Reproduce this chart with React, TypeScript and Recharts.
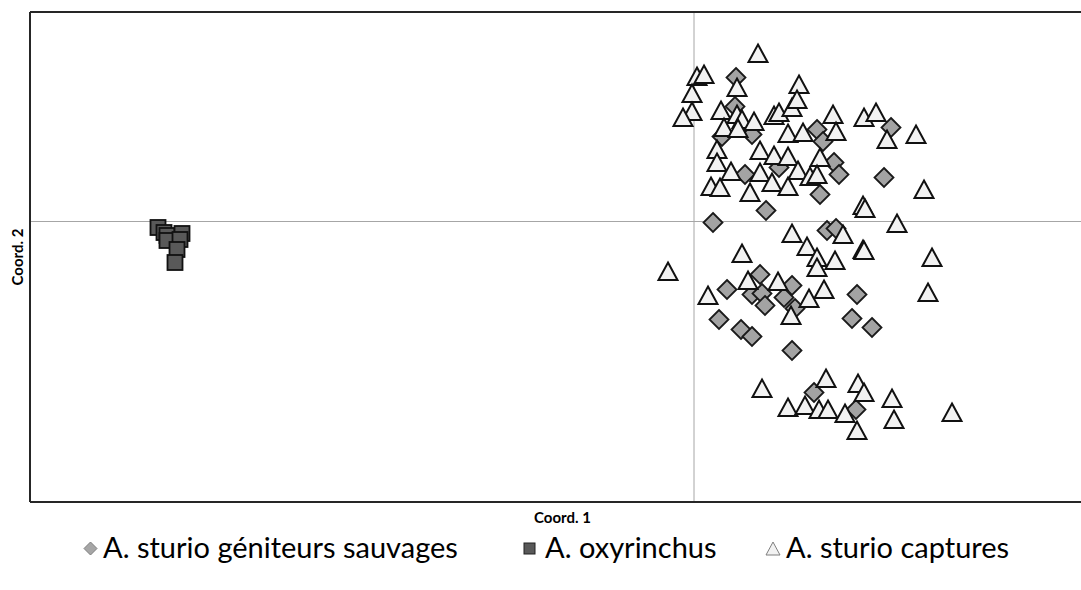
import React from 'react';
import {
  ScatterChart,
  Scatter,
  XAxis,
  YAxis,
  ReferenceLine,
  Label,
} from 'recharts';

// PCoA coordinates (Coord. 1, Coord. 2)
const sturioSauvages = [
  { x: 0.42, y: 1.44 }, { x: 0.41, y: 1.15 }, { x: 0.58, y: 0.87 }, { x: 0.28, y: 0.85 },
  { x: 0.85, y: 0.54 }, { x: 0.51, y: 0.47 }, { x: 1.23, y: 0.92 }, { x: 1.29, y: 0.8 },
  { x: 1.97, y: 0.94 }, { x: 1.4, y: 0.59 }, { x: 1.45, y: 0.47 }, { x: 1.9, y: 0.44 },
  { x: 1.26, y: 0.27 }, { x: 0.19, y: -0.01 }, { x: 0.72, y: 0.11 }, { x: 1.33, y: -0.09 },
  { x: 1.42, y: -0.07 }, { x: 0.33, y: -0.68 }, { x: 0.66, y: -0.53 }, { x: 0.98, y: -0.64 },
  { x: 0.58, y: -0.73 }, { x: 0.68, y: -0.72 }, { x: 0.71, y: -0.84 }, { x: 0.9, y: -0.76 },
  { x: 1.01, y: -0.87 }, { x: 0.25, y: -0.98 }, { x: 0.47, y: -1.08 }, { x: 0.58, y: -1.15 },
  { x: 0.98, y: -1.29 }, { x: 1.63, y: -0.73 }, { x: 1.58, y: -0.97 }, { x: 1.78, y: -1.06 },
  { x: 1.2, y: -1.71 }, { x: 1.62, y: -1.88 },
];

const oxyrinchus = [
  { x: -5.36, y: -0.06 }, { x: -5.3, y: -0.11 }, { x: -5.27, y: -0.14 }, { x: -5.12, y: -0.12 },
  { x: -5.27, y: -0.19 }, { x: -5.14, y: -0.18 }, { x: -5.17, y: -0.28 }, { x: -5.19, y: -0.41 },
];

const sturioCaptures = [
  { x: 0.64, y: 1.68 }, { x: 0.03, y: 1.45 }, { x: 0.1, y: 1.47 }, { x: -0.02, y: 1.28 },
  { x: -0.02, y: 1.1 }, { x: -0.11, y: 1.04 }, { x: 0.43, y: 1.34 }, { x: 1.05, y: 1.37 },
  { x: 0.27, y: 1.11 }, { x: 0.43, y: 1.07 }, { x: 0.48, y: 1.02 }, { x: 0.6, y: 1.0 },
  { x: 0.3, y: 0.94 }, { x: 0.44, y: 0.93 }, { x: 0.23, y: 0.72 }, { x: 0.23, y: 0.59 },
  { x: 0.66, y: 0.71 }, { x: 0.8, y: 1.06 }, { x: 0.85, y: 1.09 }, { x: 0.98, y: 1.14 },
  { x: 1.03, y: 1.22 }, { x: 0.94, y: 0.88 }, { x: 1.09, y: 0.89 }, { x: 0.8, y: 0.66 },
  { x: 0.94, y: 0.65 }, { x: 0.37, y: 0.5 }, { x: 0.66, y: 0.49 }, { x: 0.17, y: 0.35 },
  { x: 0.26, y: 0.34 }, { x: 0.56, y: 0.29 }, { x: 0.78, y: 0.39 }, { x: 0.94, y: 0.35 },
  { x: 1.04, y: 0.51 }, { x: 1.16, y: 0.45 }, { x: 1.39, y: 1.07 }, { x: 1.7, y: 1.04 },
  { x: 1.82, y: 1.09 }, { x: 1.93, y: 0.82 }, { x: 2.22, y: 0.87 }, { x: 1.42, y: 0.9 },
  { x: 1.26, y: 0.64 }, { x: 1.23, y: 0.47 }, { x: 2.3, y: 0.32 }, { x: 1.69, y: 0.16 },
  { x: 1.71, y: 0.13 }, { x: -0.26, y: -0.5 }, { x: 0.48, y: -0.32 }, { x: 0.98, y: -0.12 },
  { x: 1.13, y: -0.25 }, { x: 0.14, y: -0.74 }, { x: 0.54, y: -0.59 }, { x: 0.84, y: -0.6 },
  { x: 0.97, y: -0.94 }, { x: 1.15, y: -0.77 }, { x: 2.03, y: -0.02 }, { x: 1.49, y: -0.13 },
  { x: 1.23, y: -0.36 }, { x: 1.69, y: -0.28 }, { x: 1.7, y: -0.29 }, { x: 1.41, y: -0.39 },
  { x: 1.23, y: -0.46 }, { x: 2.38, y: -0.36 }, { x: 1.3, y: -0.68 }, { x: 2.34, y: -0.71 },
  { x: 0.68, y: -1.67 }, { x: 1.32, y: -1.57 }, { x: 1.64, y: -1.62 }, { x: 1.7, y: -1.71 },
  { x: 1.98, y: -1.77 }, { x: 0.94, y: -1.86 }, { x: 1.11, y: -1.84 }, { x: 1.25, y: -1.88 },
  { x: 1.34, y: -1.88 }, { x: 1.51, y: -1.92 }, { x: 2.0, y: -1.98 }, { x: 1.63, y: -2.09 },
  { x: 2.58, y: -1.91 },
];

const legendLabels = ['A. sturio géniteurs sauvages', 'A. oxyrinchus', 'A. sturio captures'];

const X_DOMAIN = [-6.64, 3.87];
const Y_DOMAIN = [-2.805, 2.095];
const FONT = 'Lato, "Open Sans", sans-serif';

const Diamond = (props: any) => {
  const { cx, cy } = props;
  const r = 9.5;
  return (
    <polygon
      points={`${cx},${cy - r} ${cx + r},${cy} ${cx},${cy + r} ${cx - r},${cy}`}
      fill="#a3a3a3"
      stroke="#1a1a1a"
      strokeWidth={1.8}
    />
  );
};

const Square = (props: any) => {
  const { cx, cy } = props;
  const s = 15;
  return (
    <rect x={cx - s / 2} y={cy - s / 2} width={s} height={s} fill="#595959" stroke="#111" strokeWidth={1.8} />
  );
};

const Triangle = (props: any) => {
  const { cx, cy } = props;
  return (
    <polygon
      points={`${cx},${cy - 9} ${cx + 9.5},${cy + 8.5} ${cx - 9.5},${cy + 8.5}`}
      fill="#f2f2f2"
      stroke="#111"
      strokeWidth={2}
      strokeLinejoin="miter"
    />
  );
};

const XTitle = (props: any) => {
  const { viewBox } = props;
  return (
    <text
      x={viewBox.x + viewBox.width / 2 + 7}
      y={viewBox.y + 21}
      textAnchor="middle"
      fontFamily={FONT}
      fontWeight="bold"
      fontSize={15}
      fill="#000"
    >
      Coord. 1
    </text>
  );
};

const YTitle = (props: any) => {
  const { viewBox } = props;
  const x = 23;
  const y = viewBox.y + viewBox.height / 2;
  return (
    <text
      x={x}
      y={y}
      transform={`rotate(-90 ${x} ${y})`}
      textAnchor="middle"
      fontFamily={FONT}
      fontWeight="bold"
      fontSize={15}
      fill="#000"
    >
      Coord. 2
    </text>
  );
};

const LegendBar = () => (
  <div
    style={{
      position: 'absolute',
      left: 0,
      top: 529,
      width: 1081,
      height: 38,
      fontFamily: FONT,
      fontSize: 29,
      lineHeight: '36px',
      color: '#000',
    }}
  >
    <svg style={{ position: 'absolute', left: 83, top: 12 }} width={15} height={15}>
      <polygon points="7.5,1 14,7.5 7.5,14 1,7.5" fill="#a6a6a6" stroke="#7f7f7f" strokeWidth={1} />
    </svg>
    <span style={{ position: 'absolute', left: 103, top: 0, whiteSpace: 'nowrap' }}>{legendLabels[0]}</span>
    <svg style={{ position: 'absolute', left: 523, top: 13 }} width={13} height={13}>
      <rect x={1} y={1} width={11} height={11} fill="#595959" stroke="#222" strokeWidth={1} />
    </svg>
    <span style={{ position: 'absolute', left: 545, top: 0, whiteSpace: 'nowrap' }}>{legendLabels[1]}</span>
    <svg style={{ position: 'absolute', left: 765, top: 12 }} width={16} height={15}>
      <polygon points="8,1 15,14 1,14" fill="#f2f2f2" stroke="#7f7f7f" strokeWidth={1} />
    </svg>
    <span style={{ position: 'absolute', left: 786, top: 0, whiteSpace: 'nowrap' }}>{legendLabels[2]}</span>
  </div>
);

const App: React.FC = () => {
  return (
    <div style={{ position: 'absolute', left: 0, top: 0, width: 1081, height: 590, background: '#fff' }}>
      <ScatterChart width={1081} height={590} margin={{ top: 12, right: 0, bottom: 0, left: 0 }}>
        <XAxis
          type="number"
          dataKey="x"
          domain={X_DOMAIN}
          allowDataOverflow
          tick={false}
          tickLine={false}
          height={88}
          axisLine={{ stroke: '#262626', strokeWidth: 2 }}
        >
          <Label content={<XTitle />} />
        </XAxis>
        <YAxis
          type="number"
          dataKey="y"
          domain={Y_DOMAIN}
          allowDataOverflow
          tick={false}
          tickLine={false}
          width={30}
          axisLine={{ stroke: '#262626', strokeWidth: 2 }}
        >
          <Label content={<YTitle />} />
        </YAxis>
        <ReferenceLine x={0} stroke="#a6a6a6" strokeWidth={1} />
        <ReferenceLine y={0} stroke="#a6a6a6" strokeWidth={1} />
        <ReferenceLine y={Y_DOMAIN[1]} stroke="#262626" strokeWidth={2} />
        <Scatter
          name={legendLabels[0]}
          data={sturioSauvages}
          shape={<Diamond />}
          isAnimationActive={false}
        />
        <Scatter
          name={legendLabels[1]}
          data={oxyrinchus}
          shape={<Square />}
          isAnimationActive={false}
        />
        <Scatter
          name={legendLabels[2]}
          data={sturioCaptures}
          shape={<Triangle />}
          isAnimationActive={false}
        />
      </ScatterChart>
      <LegendBar />
    </div>
  );
};

export default App;
